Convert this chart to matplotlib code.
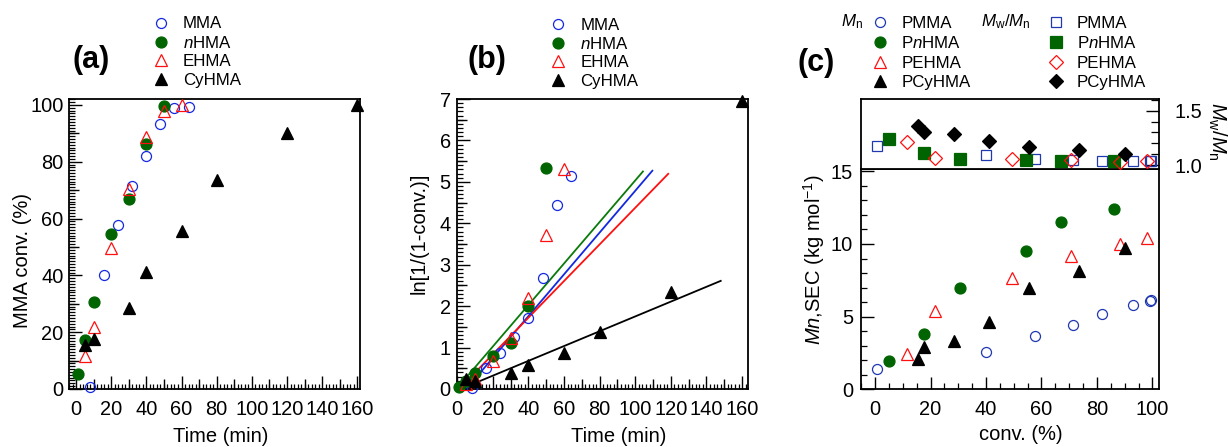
import matplotlib
matplotlib.use('Agg')
import matplotlib.pyplot as plt
from matplotlib.ticker import MultipleLocator, FixedLocator, NullFormatter, NullLocator
import numpy as np

plt.rcParams['font.family'] = ['Liberation Sans', 'DejaVu Sans']
plt.rcParams['mathtext.fontset'] = 'custom'
plt.rcParams['mathtext.rm'] = 'Liberation Sans'
plt.rcParams['mathtext.it'] = 'Liberation Sans:italic'
plt.rcParams['mathtext.bf'] = 'Liberation Sans:bold'

# ---------------- data ----------------
# panel (a)/(b): time (min)
t_MMA = [8, 16, 24, 32, 40, 48, 56, 64]
conv_MMA = [0.8, 40.2, 57.6, 71.5, 82.0, 93.2, 99.0, 99.4]
ln_MMA = [0.02, 0.51, 0.88, 1.25, 1.72, 2.69, 4.43, 5.13]

t_nHMA = [1, 5, 10, 20, 30, 40, 50]
conv_nHMA = [5.2, 17.4, 30.6, 54.5, 67.0, 86.2, 99.5]
ln_nHMA = [0.06, 0.19, 0.38, 0.79, 1.12, 2.00, 5.33]

t_EHMA = [5, 10, 20, 30, 40, 50, 60]
conv_EHMA = [11.5, 21.8, 49.6, 70.5, 88.6, 97.8, 100.0]
ln_EHMA = [0.12, 0.25, 0.68, 1.24, 2.20, 3.72, 5.31]

t_CyHMA = [5, 10, 30, 40, 60, 80, 120, 160]
conv_CyHMA = [15.5, 17.5, 28.6, 41.2, 55.8, 73.6, 90.1, 100.0]
ln_CyHMA = [0.23, 0.19, 0.38, 0.57, 0.87, 1.37, 2.33, 6.96]

# linear fits in panel (b): ln = k * (t - t0), drawn from t_start to t_end
fit_names = ['MMA', 'nHMA', 'EHMA', 'CyHMA']
fit_k = [0.0504, 0.0501, 0.0442, 0.01787]
fit_t0 = [5.05, -0.5, 1.0, 1.95]
fit_t_start = [6, 2, 2, 3]
fit_t_end = [109.6, 104.3, 118.5, 148.0]

# panel (c): conversion (%), Mn (kg/mol), Mw/Mn
cv_PMMA = [0.5, 40, 57.5, 71.5, 82, 93, 99, 99.5]
Mn_PMMA = [1.4, 2.55, 3.65, 4.45, 5.2, 5.8, 6.1, 6.15]
D_PMMA = [1.176, 1.094, 1.054, 1.048, 1.039, 1.039, 1.039, 1.039]

cv_PnHMA = [5, 17.5, 30.5, 54.5, 67, 86]
Mn_PnHMA = [1.95, 3.8, 7.0, 9.5, 11.5, 12.4]
D_PnHMA = [1.238, 1.115, 1.054, 1.048, 1.039, 1.039]

cv_PEHMA = [11.5, 21.5, 49.5, 70.5, 88.5, 98]
Mn_PEHMA = [2.45, 5.4, 7.65, 9.2, 10.0, 10.4]
D_PEHMA = [1.216, 1.069, 1.054, 1.048, 1.030, 1.039]

cv_PCyHMA = [15.5, 17.5, 28.5, 41, 55.5, 73.5, 90]
Mn_PCyHMA = [2.1, 2.9, 3.35, 4.65, 6.95, 8.15, 9.7]
D_PCyHMA = [1.359, 1.307, 1.283, 1.225, 1.170, 1.139, 1.103]

# ---------------- style ----------------
BLUE = '#1428e0'
BLUE_C = '#2038b0'
GREEN = '#006400'
GREEN_L = '#0a7a0a'
RED = '#ff1010'
BLACK = '#000000'

TICK_FS = 14.4
LAB_FS = 14.5
LEG_FS = 12.2

W, H = 1228, 447
fig = plt.figure(figsize=(W / 100, H / 100), dpi=100)


def box(l, t, r, b):
    return [l / W, 1 - b / H, (r - l) / W, (b - t) / H]


def fx(px):
    return px / W


def fy(py):
    return 1 - py / H


PT = 0.72  # points per pixel at 100 dpi


def base_axes(ax):
    for s in ax.spines.values():
        s.set_linewidth(1.3)
    ax.tick_params(which='both', direction='in', width=1.0, labelsize=TICK_FS,
                   top=False, right=False)


def mid_ticks(ax, which, positions, length):
    if which == 'x':
        sec = ax.secondary_xaxis('bottom')
        sec.xaxis.set_major_locator(FixedLocator(positions))
        sec.xaxis.set_major_formatter(NullFormatter())
        sec.xaxis.set_minor_locator(NullLocator())
    else:
        sec = ax.secondary_yaxis('left')
        sec.yaxis.set_major_locator(FixedLocator(positions))
        sec.yaxis.set_major_formatter(NullFormatter())
        sec.yaxis.set_minor_locator(NullLocator())
    for s in sec.spines.values():
        s.set_visible(False)
    sec.tick_params(which='major', direction='in', length=length, width=1.0)


mk = dict(ls='none', clip_on=False, zorder=3)
sty_MMA = dict(marker='o', ms=7.2, mfc='none', mec=BLUE, mew=0.9)
sty_nHMA = dict(marker='o', ms=7.9, mfc=GREEN, mec=GREEN, mew=0.9)
sty_EHMA = dict(marker='^', ms=8.6, mfc='none', mec=RED, mew=0.9)
sty_CyHMA = dict(marker='^', ms=9.0, mfc=BLACK, mec=BLACK, mew=0.9)

labels_ab = ['MMA', r'$n$HMA', 'EHMA', 'CyHMA']
leg_kw = dict(loc='upper left', bbox_transform=fig.transFigure, frameon=False,
              borderpad=0, borderaxespad=0, handlelength=1.0,
              fontsize=LEG_FS)

# ---------------- panel (a) ----------------
ax_a = fig.add_axes(box(69, 99, 360, 389))
base_axes(ax_a)
h1, = ax_a.plot(t_MMA, conv_MMA, **sty_MMA, **mk)
h2, = ax_a.plot(t_nHMA, conv_nHMA, **sty_nHMA, **mk)
h3, = ax_a.plot(t_EHMA, conv_EHMA, **sty_EHMA, **mk)
h4, = ax_a.plot(t_CyHMA, conv_CyHMA, **sty_CyHMA, **mk)
ax_a.set_xlim(-4, 161.5)
ax_a.set_ylim(0, 102.1)
ax_a.xaxis.set_major_locator(MultipleLocator(20))
ax_a.xaxis.set_minor_locator(MultipleLocator(2))
ax_a.yaxis.set_major_locator(MultipleLocator(20))
ax_a.yaxis.set_minor_locator(MultipleLocator(1))
ax_a.tick_params(which='major', length=13 * PT)
ax_a.tick_params(which='minor', length=5.5 * PT, width=0.9)
ax_a.tick_params(axis='x', pad=8.0)
ax_a.tick_params(axis='y', pad=4.0)
mid_ticks(ax_a, 'x', list(range(10, 161, 20)), 10 * PT)
mid_ticks(ax_a, 'y', list(range(10, 101, 20)), 10 * PT)
fig.legend([h1, h2, h3, h4], labels_ab, bbox_to_anchor=(fx(152.5), fy(16.5)),
           handletextpad=0.8, labelspacing=0.2, **leg_kw)
fig.text(fx(22.5), fy(260.8), 'MMA conv. (%)', rotation=90, ha='center',
         va='center', fontsize=LAB_FS)
fig.text(fx(220.5), fy(437), 'Time (min)', ha='center', va='center',
         fontsize=LAB_FS)
fig.text(fx(91), fy(60), '(a)', ha='center', va='center', fontsize=22,
         fontweight='bold')

# ---------------- panel (b) ----------------
ax_b = fig.add_axes(box(457.3, 99, 748.3, 389))
base_axes(ax_b)
fit_colors = [BLUE, GREEN_L, RED, BLACK]
for k, t0, ts, te, c in zip(fit_k, fit_t0, fit_t_start, fit_t_end, fit_colors):
    tt = np.array([ts, te])
    ax_b.plot(tt, k * (tt - t0), color=c, lw=1.3, zorder=2)
g1, = ax_b.plot(t_MMA, ln_MMA, **sty_MMA, **mk)
g2, = ax_b.plot(t_nHMA, ln_nHMA, **sty_nHMA, **mk)
g3, = ax_b.plot(t_EHMA, ln_EHMA, **sty_EHMA, **mk)
g4, = ax_b.plot(t_CyHMA, ln_CyHMA, **sty_CyHMA, **mk)
ax_b.set_xlim(0, 163.5)
ax_b.set_ylim(0, 7)
ax_b.xaxis.set_major_locator(MultipleLocator(20))
ax_b.xaxis.set_minor_locator(MultipleLocator(2))
ax_b.yaxis.set_major_locator(MultipleLocator(1))
ax_b.yaxis.set_minor_locator(MultipleLocator(0.1))
ax_b.tick_params(which='major', length=13 * PT)
ax_b.tick_params(which='minor', length=5.5 * PT, width=0.9)
ax_b.tick_params(axis='x', pad=8.0)
ax_b.tick_params(axis='y', pad=4.8)
mid_ticks(ax_b, 'x', list(range(10, 161, 20)), 10 * PT)
mid_ticks(ax_b, 'y', [0.5, 1.5, 2.5, 3.5, 4.5, 5.5, 6.5], 10 * PT)
fig.legend([g1, g2, g3, g4], labels_ab, bbox_to_anchor=(fx(550), fy(17.5)),
           handletextpad=0.8, labelspacing=0.2, **leg_kw)
fig.text(fx(419.2), fy(233.5), 'ln[1/(1-conv.)]', rotation=90, ha='center',
         va='center', fontsize=LAB_FS)
fig.text(fx(618.3), fy(437), 'Time (min)', ha='center', va='center',
         fontsize=LAB_FS)
fig.text(fx(487.3), fy(60), '(b)', ha='center', va='center', fontsize=22,
         fontweight='bold')

# ---------------- panel (c) ----------------
ax_cb = fig.add_axes(box(860.7, 169, 1159.3, 389.3))
ax_ct = fig.add_axes(box(860.7, 99, 1159.3, 169))
for ax in (ax_cb, ax_ct):
    base_axes(ax)
    ax.set_xlim(-5.2, 102.5)

sty_c_MMA = dict(marker='o', ms=7.2, mfc='none', mec=BLUE_C, mew=0.9)
c1, = ax_cb.plot(cv_PMMA, Mn_PMMA, **sty_c_MMA, **mk)
c2, = ax_cb.plot(cv_PnHMA, Mn_PnHMA, **sty_nHMA, **mk)
c3, = ax_cb.plot(cv_PEHMA, Mn_PEHMA, **sty_EHMA, **mk)
c4, = ax_cb.plot(cv_PCyHMA, Mn_PCyHMA, **dict(sty_CyHMA, ms=8.6), **mk)
ax_cb.set_ylim(0, 15.16)
ax_cb.xaxis.set_major_locator(MultipleLocator(20))
ax_cb.xaxis.set_minor_locator(MultipleLocator(5))
ax_cb.yaxis.set_major_locator(MultipleLocator(5))
ax_cb.yaxis.set_minor_locator(MultipleLocator(1))
ax_cb.tick_params(which='major', length=12.5 * PT)
ax_cb.tick_params(which='minor', length=6 * PT, width=0.9)
ax_cb.tick_params(axis='x', pad=7.8)
ax_cb.tick_params(axis='y', pad=5.4)

sq_MMA = dict(marker='s', ms=7.7, mfc='none', mec=BLUE_C, mew=0.9)
sq_nHMA = dict(marker='s', ms=8.0, mfc=GREEN, mec=GREEN, mew=0.9)
di_EHMA = dict(marker='D', ms=7.1, mfc='none', mec=RED, mew=0.9)
di_CyHMA = dict(marker='D', ms=7.1, mfc=BLACK, mec=BLACK, mew=0.9)
d1, = ax_ct.plot(cv_PMMA, D_PMMA, **sq_MMA, **mk)
d2, = ax_ct.plot(cv_PnHMA, D_PnHMA, **sq_nHMA, **mk)
d3, = ax_ct.plot(cv_PEHMA, D_PEHMA, **di_EHMA, **mk)
d4, = ax_ct.plot(cv_PCyHMA, D_PCyHMA, **di_CyHMA, **mk)
ax_ct.set_ylim(0.965, 1.607)
ax_ct.xaxis.set_major_locator(NullLocator())
ax_ct.xaxis.set_minor_locator(NullLocator())
ax_ct.yaxis.tick_right()
ax_ct.yaxis.set_major_locator(FixedLocator([1.0, 1.5]))
ax_ct.yaxis.set_minor_locator(MultipleLocator(0.1))
ax_ct.yaxis.set_major_formatter(plt.FuncFormatter(lambda v, p: f'{v:.1f}'))
ax_ct.tick_params(axis='y', which='both', left=False, right=True,
                  labelleft=False, labelright=True)
ax_ct.tick_params(which='major', length=13 * PT, pad=10.8)
ax_ct.tick_params(which='minor', length=8 * PT, width=0.9)

c_labels = ['PMMA', r'P$n$HMA', 'PEHMA', 'PCyHMA']
fig.legend([c1, c2, c3, c4], c_labels, bbox_to_anchor=(fx(871.5), fy(15.5)),
           handletextpad=0.75, labelspacing=0.27, **leg_kw)
fig.legend([d1, d2, d3, d4], c_labels, bbox_to_anchor=(fx(1047.2), fy(15.5)),
           handletextpad=0.75, labelspacing=0.27, **leg_kw)
fig.text(fx(851.7), fy(21.7), r'$M_{\rm n}$', ha='center', va='center',
         fontsize=LEG_FS)
fig.text(fx(1005.5), fy(21.7), r'$M_{\rm w}/M_{\rm n}$', ha='center',
         va='center', fontsize=LEG_FS)
fig.text(fx(814), fy(260), r'$Mn$,SEC (kg mol$^{-1}$)', rotation=90,
         ha='center', va='center', fontsize=LAB_FS)
fig.text(fx(1217), fy(131.5), r'$M_{\rm w}/M_{\rm n}$', rotation=270,
         ha='center', va='center', fontsize=LAB_FS)
fig.text(fx(1021), fy(434.7), 'conv. (%)', ha='center', va='center',
         fontsize=LAB_FS)
fig.text(fx(816), fy(63), '(c)', ha='center', va='center', fontsize=22,
         fontweight='bold')

fig.savefig('out.png', dpi=100)
